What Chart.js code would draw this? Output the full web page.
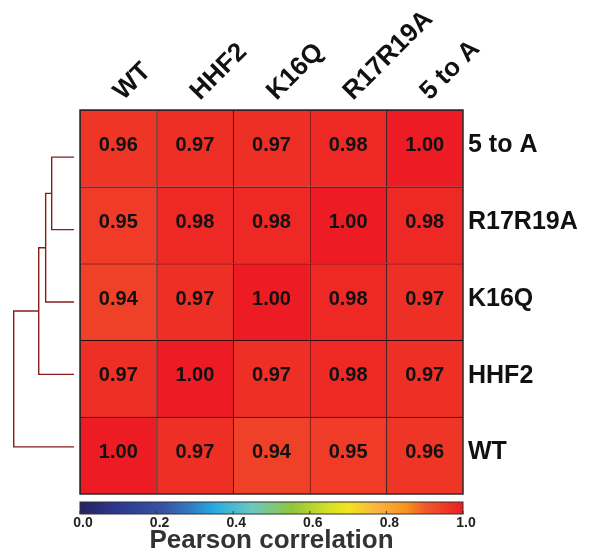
<!DOCTYPE html>
<html>
<head>
<meta charset="utf-8">
<script src="https://cdn.jsdelivr.net/npm/chart.js@4/dist/chart.umd.min.js"></script>
<style>
  html, body { margin: 0; padding: 0; background: #ffffff; }
  canvas { display: block; }
</style>
</head>
<body>
<canvas id="c" width="590" height="557"></canvas>
<script>
// ---- data ----
const colLabels = ['WT', 'HHF2', 'K16Q', 'R17R19A', '5 to A'];
const rowLabels = ['5 to A', 'R17R19A', 'K16Q', 'HHF2', 'WT']; // top to bottom
const row5toA   = [0.96, 0.97, 0.97, 0.98, 1.00];
const rowR17R19A = [0.95, 0.98, 0.98, 1.00, 0.98];
const rowK16Q   = [0.94, 0.97, 1.00, 0.98, 0.97];
const rowHHF2   = [0.97, 1.00, 0.97, 0.98, 0.97];
const rowWT     = [1.00, 0.97, 0.94, 0.95, 0.96];
const cellHeight = [1, 1, 1, 1, 1];
const colorbarTicks = [0.0, 0.2, 0.4, 0.6, 0.8, 1.0];
// dendrogram: merges of leaves (indices in rowLabels order), merge heights (relative)
const dendroMerges = [[0, 1], [5, 2], [6, 3], [7, 4]];
const dendroHeights = [0.37, 0.47, 0.585, 1.0];

// ---- colormap ----
const cmapStops = [
  [0.00, [38, 34, 98]],
  [0.10, [43, 57, 144]],
  [0.22, [57, 83, 164]],
  [0.30, [46, 132, 198]],
  [0.35, [39, 170, 225]],
  [0.45, [109, 200, 191]],
  [0.55, [141, 198, 63]],
  [0.65, [215, 223, 35]],
  [0.70, [240, 230, 30]],
  [0.78, [251, 176, 64]],
  [0.85, [247, 148, 29]],
  [0.90, [241, 90, 41]],
  [1.00, [237, 28, 36]]
];
function cmap(v) {
  for (let i = 1; i < cmapStops.length; i++) {
    const [p1, c1] = cmapStops[i], [p0, c0] = cmapStops[i - 1];
    if (v <= p1) {
      const t = (v - p0) / (p1 - p0);
      const c = c0.map((a, k) => Math.round(a + (c1[k] - a) * t));
      return `rgb(${c[0]},${c[1]},${c[2]})`;
    }
  }
  const c = cmapStops[cmapStops.length - 1][1];
  return `rgb(${c[0]},${c[1]},${c[2]})`;
}

const FONT = '"Liberation Sans", Arial, Helvetica, sans-serif';
const rowsBottomUp = [
  { name: 'WT', vals: rowWT },
  { name: 'HHF2', vals: rowHHF2 },
  { name: 'K16Q', vals: rowK16Q },
  { name: 'R17R19A', vals: rowR17R19A },
  { name: '5 to A', vals: row5toA }
];

const datasets = rowsBottomUp.map(r => ({
  label: r.name,
  data: cellHeight,
  values: r.vals,
  backgroundColor: r.vals.map(cmap),
  borderColor: '#2e0c0c',
  borderWidth: { top: 1, left: 1, right: 0, bottom: 0 },
  borderSkipped: false,
  barPercentage: 1,
  categoryPercentage: 1
}));

const cellText = {
  id: 'cellText',
  afterDatasetsDraw(chart) {
    const ctx = chart.ctx;
    ctx.save();
    ctx.font = `bold 20px ${FONT}`;
    ctx.fillStyle = '#111';
    ctx.textAlign = 'center';
    ctx.textBaseline = 'middle';
    chart.data.datasets.forEach((ds, i) => {
      chart.getDatasetMeta(i).data.forEach((el, j) => {
        const p = el.getProps(['x', 'y', 'base'], true);
        ctx.fillText(ds.values[j].toFixed(2), p.x, (p.y + p.base) / 2 - 3);
      });
    });
    // frame
    const a = chart.chartArea;
    ctx.strokeStyle = '#2a2a2a';
    ctx.lineWidth = 1.5;
    ctx.strokeRect(a.left, a.top, a.right - a.left, a.bottom - a.top);
    ctx.restore();
  }
};

const dendro = {
  id: 'dendro',
  afterDraw(chart) {
    const y = chart.scales.y, a = chart.chartArea, ctx = chart.ctx;
    const mid = y.getPixelForValue(2.5);
    const span = 0.943;
    const leafX = a.left - 6, unit = 60.3;
    const nodes = rowLabels.map((_, i) => ({ x: leafX, y: mid + (y.getPixelForValue(4.5 - i) - mid) * span }));
    ctx.save();
    ctx.strokeStyle = '#8a1c1c';
    ctx.lineWidth = 1.4;
    dendroMerges.forEach((m, k) => {
      const A = nodes[m[0]], B = nodes[m[1]];
      const x = leafX - dendroHeights[k] * unit;
      ctx.beginPath();
      ctx.moveTo(A.x, A.y); ctx.lineTo(x, A.y); ctx.lineTo(x, B.y); ctx.lineTo(B.x, B.y);
      ctx.stroke();
      nodes.push({ x: x, y: (A.y + B.y) / 2 });
    });
    ctx.restore();
  }
};

const colorbar = {
  id: 'colorbar',
  afterDraw(chart) {
    const s = chart.scales.cb, ctx = chart.ctx;
    const x0 = s.getPixelForValue(0), x1 = s.getPixelForValue(1);
    const top = s.top + 8, h = 12;
    const g = ctx.createLinearGradient(x0, 0, x1, 0);
    cmapStops.forEach(st => g.addColorStop(st[0], cmap(st[0])));
    ctx.save();
    ctx.fillStyle = g;
    ctx.fillRect(x0, top, x1 - x0, h);
    ctx.strokeStyle = '#333';
    ctx.lineWidth = 1;
    ctx.strokeRect(x0, top, x1 - x0, h);
    ctx.beginPath();
    colorbarTicks.forEach(t => {
      const x = s.getPixelForValue(t);
      ctx.moveTo(x, top + h); ctx.lineTo(x, top + h - 3);
    });
    ctx.stroke();
    ctx.restore();
  }
};

new Chart(document.getElementById('c'), {
  type: 'bar',
  data: { labels: colLabels, datasets: datasets },
  plugins: [cellText, dendro, colorbar],
  options: {
    responsive: false,
    devicePixelRatio: 1,
    animation: false,
    layout: { padding: { left: 80, top: 0, right: 0, bottom: 0 } },
    plugins: { legend: { display: false }, tooltip: { enabled: false } },
    scales: {
      x: {
        type: 'category',
        position: 'top',
        stacked: true,
        grid: { display: false, drawTicks: false },
        border: { display: false },
        ticks: {
          minRotation: 45, maxRotation: 45, autoSkip: false,
          padding: 3, labelOffset: 22,
          color: '#111',
          font: { family: FONT, size: 26, weight: 'bold' }
        },
        afterFit(s) { s.height = 110; }
      },
      y: {
        type: 'linear',
        position: 'right',
        stacked: true,
        min: 0, max: 5,
        grid: { display: false, drawTicks: false },
        border: { display: false },
        afterBuildTicks(s) { s.ticks = [0.5, 1.5, 2.5, 3.5, 4.5].map(v => ({ value: v })); },
        ticks: {
          padding: 5, labelOffset: -3,
          color: '#111',
          font: { family: FONT, size: 25, weight: 'bold' },
          callback: (v) => rowLabels[4 - Math.floor(v)]
        },
        afterFit(s) { s.width = 127; }
      },
      cb: {
        type: 'linear',
        position: 'bottom',
        offset: false,
        min: 0, max: 1,
        grid: { display: false, drawTicks: false, offset: false },
        border: { display: false },
        afterBuildTicks(s) { s.ticks = colorbarTicks.map(v => ({ value: v })); },
        ticks: {
          padding: 21, labelOffset: 3,
          color: '#222',
          font: { family: FONT, size: 14, weight: 'bold' },
          callback: (v) => Number(v).toFixed(1)
        },
        title: {
          display: true,
          text: 'Pearson correlation',
          color: '#333',
          font: { family: FONT, size: 26, weight: 'bold' },
          padding: { top: 0, bottom: 1 }
        },
        afterFit(s) { s.height = 63; }
      }
    }
  }
});
</script>
</body>
</html>
